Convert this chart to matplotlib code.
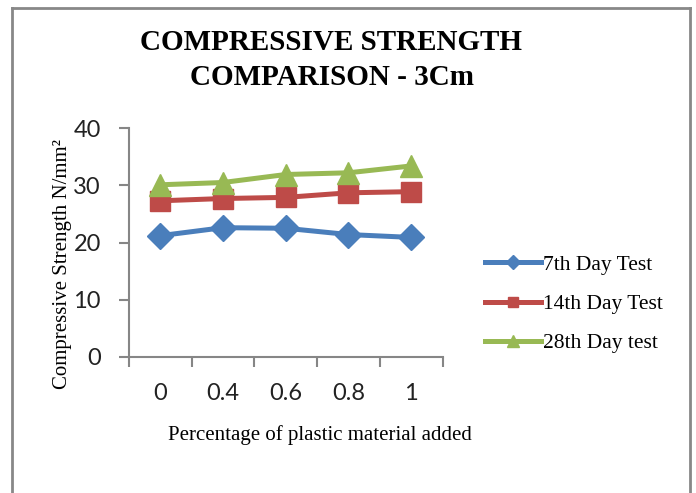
import matplotlib
matplotlib.use('Agg')
import matplotlib.pyplot as plt
from matplotlib.lines import Line2D
import numpy as np

# data
categories = ['0', '0.4', '0.6', '0.8', '1']
day7 = [21.2, 22.6, 22.5, 21.4, 20.9]
day14 = [27.3, 27.7, 27.9, 28.7, 28.9]
day28 = [30.1, 30.5, 31.9, 32.2, 33.4]
series_names = ['7th Day Test', '14th Day Test', '28th Day test']

serif = 'Liberation Serif'
sans = 'Lato'
grey = '#868686'

fig = plt.figure(figsize=(6.96, 4.93), dpi=100)
ax = fig.add_axes([0.185, 0.276, 0.451, 0.464])

x = np.arange(len(categories))
ax.plot(x, day7, color='#4A7EBB', lw=3.6, marker='D', ms=13, label=series_names[0])
ax.plot(x, day14, color='#BE4B48', lw=3.6, marker='s', ms=14, label=series_names[1])
ax.plot(x, day28, color='#98B954', lw=3.6, marker='^', ms=16, label=series_names[2])

ax.set_ylim(0, 40)
ax.set_yticks([0, 10, 20, 30, 40])
ax.set_xlim(-0.5, len(categories) - 0.5)
ax.set_xticks(x)
ax.set_xticklabels(categories)
ax.set_xticks(np.arange(-0.5, len(categories)), minor=True)
ax.tick_params(axis='x', which='major', length=0, pad=19)
ax.tick_params(axis='x', which='minor', length=7, width=1.5, color=grey)
ax.tick_params(axis='y', length=7, width=1.5, color=grey, pad=13)
for lab in ax.get_xticklabels() + ax.get_yticklabels():
    lab.set_fontfamily(sans)
    lab.set_fontsize(17)
    lab.set_color('#222222')

for s in ['top', 'right']:
    ax.spines[s].set_visible(False)
for s in ['left', 'bottom']:
    ax.spines[s].set_color(grey)
    ax.spines[s].set_linewidth(1.5)

ax.set_ylabel('Compressive Strength N/mm\u00b2', fontfamily=serif, fontsize=15)
ax.yaxis.set_label_coords(-0.18, 0.405)
ax.set_xlabel('Percentage of plastic material added', fontfamily=serif, fontsize=15)
ax.xaxis.set_label_coords(0.61, -0.30)

fig.text(0.476, 0.914, 'COMPRESSIVE STRENGTH', ha='center', va='center',
         fontfamily=serif, fontweight='bold', fontsize=21)
fig.text(0.477, 0.842, 'COMPARISON - 3Cm', ha='center', va='center',
         fontfamily=serif, fontweight='bold', fontsize=21)

leg = fig.legend(loc='upper left', bbox_to_anchor=(0.669, 0.523), frameon=False,
                 prop={'family': serif, 'size': 15.5}, handlelength=2.6,
                 handletextpad=0.1, labelspacing=0.9, markerscale=0.55)

# page border lines
fig.add_artist(Line2D([0.017, 0.991], [0.984, 0.984], color='#888888', lw=2))
fig.add_artist(Line2D([0.017, 0.017], [0.0, 0.984], color='#888888', lw=2))
fig.add_artist(Line2D([0.991, 0.991], [0.0, 0.984], color='#888888', lw=2))

fig.savefig('out.png', dpi=100)
